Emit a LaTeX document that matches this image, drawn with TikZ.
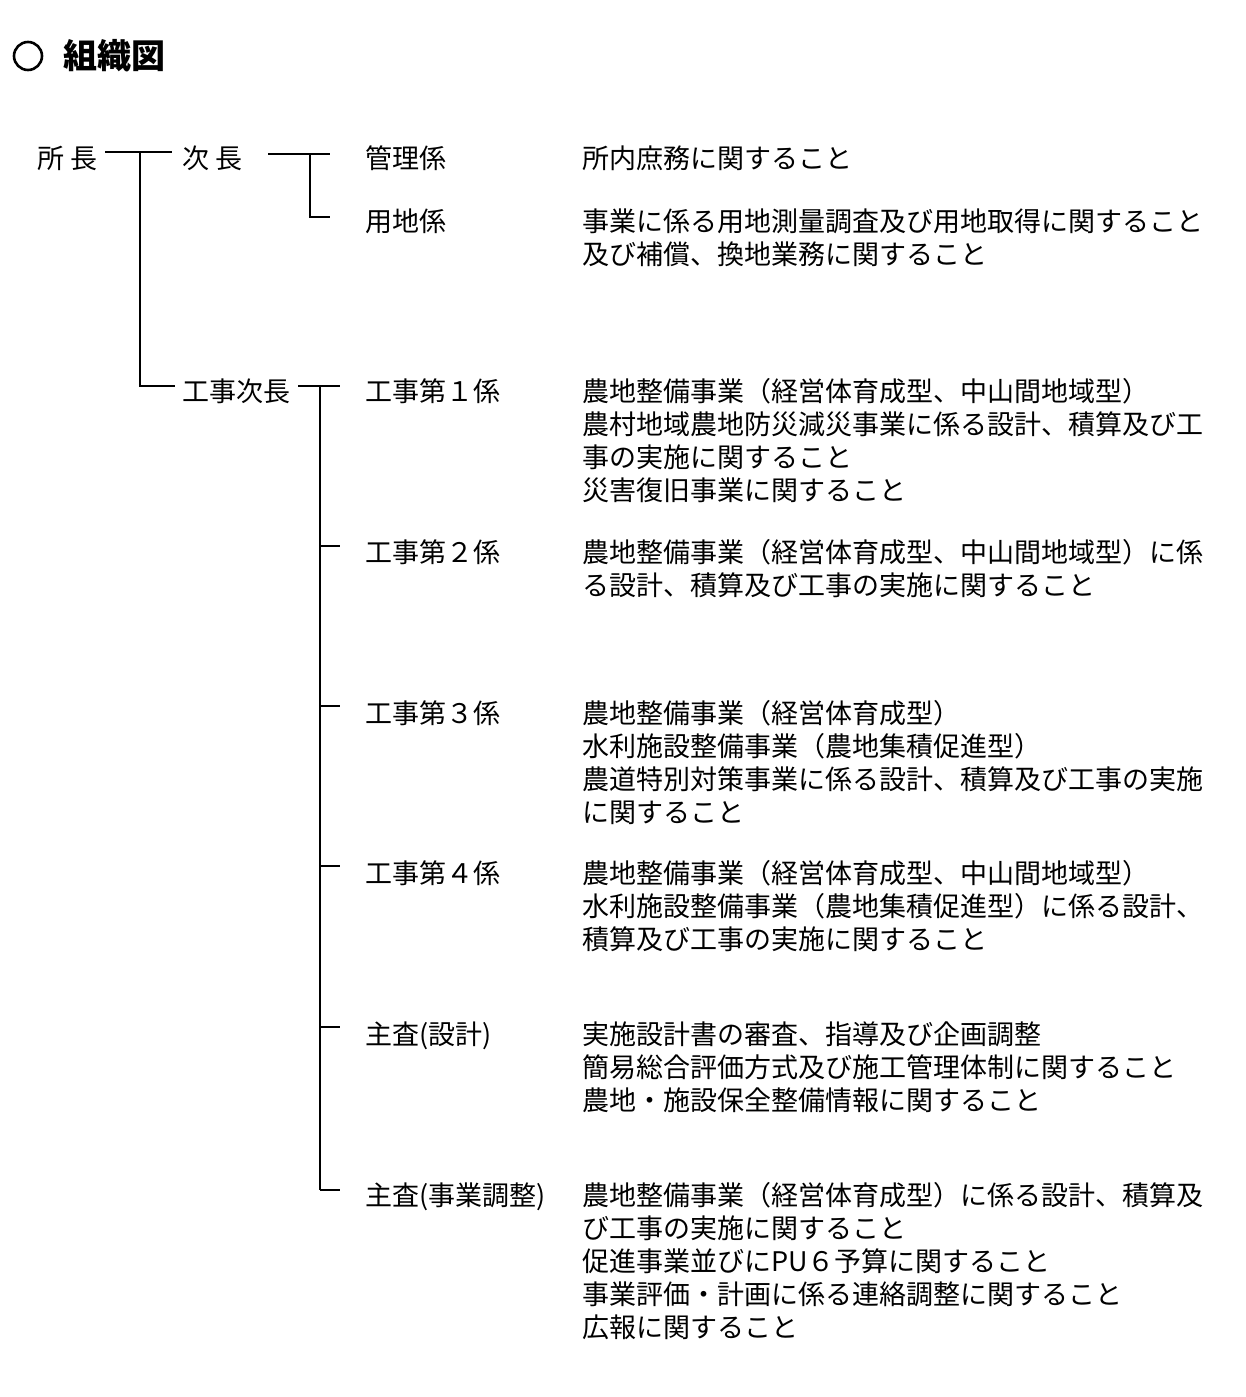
\documentclass[tikz,border=0pt]{standalone}
\usepackage{fontspec}
\setmainfont{Noto Sans CJK JP}
\usetikzlibrary{positioning}
\tikzset{
  lbl/.style={anchor=base west, inner sep=0pt, font=\fontsize{27}{33}\selectfont},
  desc/.style={lbl},
  conn/.style={line width=1.6pt}
}
\begin{document}
\begin{tikzpicture}[x=1pt, y=-1pt]
\useasboundingbox (0,0) rectangle (1246,1397);

% Title
\draw[line width=2.6pt] (28,56) circle (14);
\node[lbl, font=\fontsize{34}{40}\selectfont\bfseries] (title) at (63,69) {組織図};

% Heads
\node[lbl] (shocho) at (37,168) {所 長};
\node[lbl] (jicho) at (182,168) {次 長};
\node[lbl] (kojicho) at (182,401) {工事次長};

% Sections
\node[lbl] (kanri) at (365,168) {管理係};
\node[lbl] (yochi) at (365,231) {用地係};
\node[lbl] (k1) at (365,401) {工事第１係};
\node[lbl] (k2) at (365,562) {工事第２係};
\node[lbl] (k3) at (365,723) {工事第３係};
\node[lbl] (k4) at (365,883) {工事第４係};
\node[lbl] (sekkei) at (365,1044) {主査(設計)};
\node[lbl] (chosei) at (365,1205) {主査(事業調整)};

% Connectors
\draw[conn] (105,152) -- (172,152);
\draw[conn] (140,152) |- (175,386);
\draw[conn] (268,154) -- (330,154);
\draw[conn] (310,154) |- (330,217);
\draw[conn] (298,386) -- (340,386);
\draw[conn] (320,386) -- (320,1190);
\foreach \y in {546,706,866,1027,1190}
  \draw[conn] (320,\y) -- (340,\y);

% Descriptions
\foreach \t [count=\i] in {所内庶務に関すること}
  \node[desc] at (582,168+33*\i-33) {\t};
\foreach \t [count=\i] in {事業に係る用地測量調査及び用地取得に関すること,及び補償、換地業務に関すること}
  \node[desc] at (582,231+33*\i-33) {\t};
\foreach \t [count=\i] in {農地整備事業（経営体育成型、中山間地域型）,農村地域農地防災減災事業に係る設計、積算及び工,事の実施に関すること,災害復旧事業に関すること}
  \node[desc] at (582,401+33*\i-33) {\t};
\foreach \t [count=\i] in {農地整備事業（経営体育成型、中山間地域型）に係,る設計、積算及び工事の実施に関すること}
  \node[desc] at (582,562+33*\i-33) {\t};
\foreach \t [count=\i] in {農地整備事業（経営体育成型）,水利施設整備事業（農地集積促進型）,農道特別対策事業に係る設計、積算及び工事の実施,に関すること}
  \node[desc] at (582,723+33*\i-33) {\t};
\foreach \t [count=\i] in {農地整備事業（経営体育成型、中山間地域型）,水利施設整備事業（農地集積促進型）に係る設計、,積算及び工事の実施に関すること}
  \node[desc] at (582,883+33*\i-33) {\t};
\foreach \t [count=\i] in {実施設計書の審査、指導及び企画調整,簡易総合評価方式及び施工管理体制に関すること,農地・施設保全整備情報に関すること}
  \node[desc] at (582,1044+33*\i-33) {\t};
\foreach \t [count=\i] in {農地整備事業（経営体育成型）に係る設計、積算及,び工事の実施に関すること,促進事業並びにPU６予算に関すること,事業評価・計画に係る連絡調整に関すること,広報に関すること}
  \node[desc] at (582,1205+33*\i-33) {\t};
\end{tikzpicture}
\end{document}
